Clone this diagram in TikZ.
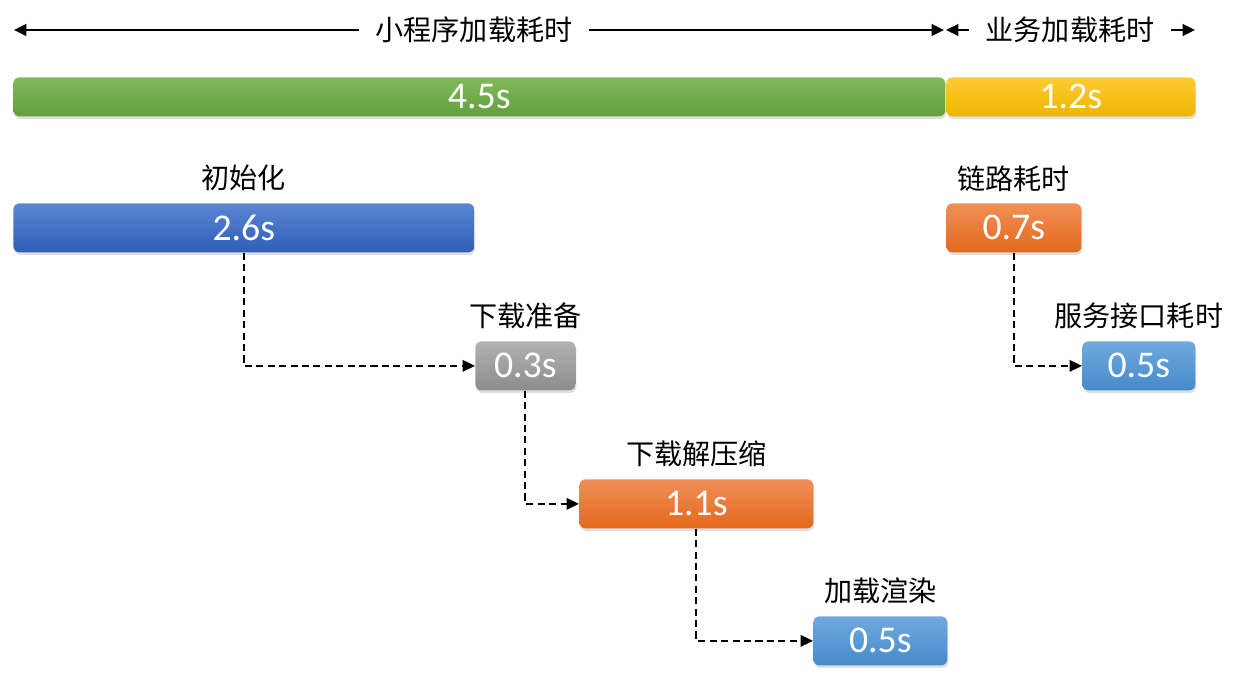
\documentclass[tikz,border=0pt]{standalone}
\usepackage{fontspec}
\setmainfont{Carlito}
\newfontfamily\cjk{Noto Sans CJK SC}
\usetikzlibrary{positioning, shadows, arrows.meta}

\definecolor{greenTop}{HTML}{80B95C}
\definecolor{greenBot}{HTML}{62A03B}
\definecolor{yellowTop}{HTML}{FFCB33}
\definecolor{yellowBot}{HTML}{EEB500}
\definecolor{blueTop}{HTML}{5C85D2}
\definecolor{blueBot}{HTML}{2E5EB8}
\definecolor{grayTop}{HTML}{B2B2B2}
\definecolor{grayBot}{HTML}{8C8C8C}
\definecolor{orangeTop}{HTML}{F18F58}
\definecolor{orangeBot}{HTML}{E3681B}
\definecolor{skyTop}{HTML}{70A9DD}
\definecolor{skyBot}{HTML}{468ACB}

\begin{document}
\begin{tikzpicture}[
    x=0.02cm, y=-0.02cm,
    >={Triangle[length=7pt,width=6.5pt]},
    bar/.style={rectangle, rounded corners=3.5pt, anchor=north west, minimum height=0.98cm, inner sep=0pt, text=white, font=\fontsize{21.5}{21.5}\selectfont, drop shadow={shadow xshift=0.6pt, shadow yshift=-1.5pt, opacity=0.25}},
    stage/.style={font=\cjk\fontsize{16}{16}\selectfont, inner sep=0pt},
    span/.style={font=\cjk\fontsize{16}{16}\selectfont, inner xsep=9.5pt, inner ysep=0pt},
    dim/.style={->, line width=1.5pt},
    link/.style={->, line width=1.05pt, dash pattern=on 4pt off 2.5pt}
]
\useasboundingbox (0,0) rectangle (1246,698);

% Totals
\node[bar, minimum height=0.78cm, minimum width=18.64cm, top color=greenTop, bottom color=greenBot] (total) at (13,77) {4.5s};
\node[bar, minimum height=0.78cm, minimum width=4.98cm, top color=yellowTop, bottom color=yellowBot] (biz) at (946,77) {1.2s};

% Spans on top
\node[span] (mpTitle) at (474,30) {小程序加载耗时};
\node[span] (bizTitle) at (1070,30) {业务加载耗时};
\coordinate (mpLeft) at (14,30);
\coordinate (mpRight) at (944,30);
\coordinate (bizLeft) at (946,30);
\coordinate (bizRight) at (1195,30);
\draw[dim] (mpTitle) -- (mpLeft);
\draw[dim] (mpTitle) -- (mpRight);
\draw[dim] (bizTitle) -- (bizLeft);
\draw[dim] (bizTitle) -- (bizRight);

% Mini program stages
\node[bar, minimum width=9.22cm, top color=blueTop, bottom color=blueBot] (init) at (13,203) {2.6s};
\node[bar, minimum width=2.0cm, top color=grayTop, bottom color=grayBot] (prep) at (475,341) {0.3s};
\node[bar, minimum width=4.68cm, top color=orangeTop, bottom color=orangeBot] (unzip) at (579,479) {1.1s};
\node[bar, minimum width=2.68cm, top color=skyTop, bottom color=skyBot] (render) at (813,616) {0.5s};

% Business stages
\node[bar, minimum width=2.7cm, top color=orangeTop, bottom color=orangeBot] (net) at (946,203) {0.7s};
\node[bar, minimum width=2.26cm, top color=skyTop, bottom color=skyBot] (api) at (1082,341) {0.5s};

% Labels
\node[stage, above=6.5pt of init] (initLabel) {初始化};
\node[stage, above=6.5pt of prep] (prepLabel) {下载准备};
\node[stage, above=6.5pt of unzip] (unzipLabel) {下载解压缩};
\node[stage, above=6.5pt of render] (renderLabel) {加载渲染};
\node[stage, above=6.5pt of net] (netLabel) {链路耗时};
\node[stage, above=6.5pt of api] (apiLabel) {服务接口耗时};

% Arrows
\draw[link] (init.south) |- (prep.west);
\draw[link] (prep.south) |- (unzip.west);
\draw[link] (unzip.south) |- (render.west);
\draw[link] (net.south) |- (api.west);

\end{tikzpicture}
\end{document}
